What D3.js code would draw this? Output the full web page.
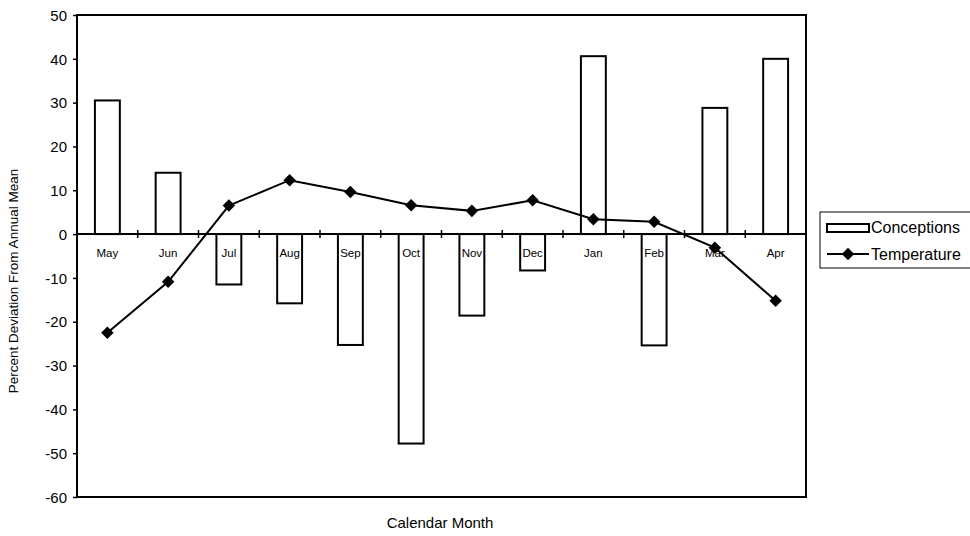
<!DOCTYPE html>
<html><head><meta charset="utf-8">
<script src="https://cdn.jsdelivr.net/npm/d3@7"></script>
<style>body{margin:0;background:#fff}svg{display:block}text{font-family:Arial,"Liberation Sans",sans-serif}</style>
</head><body>
<svg id="c" width="970" height="536"></svg>
<script>
const months = ["May","Jun","Jul","Aug","Sep","Oct","Nov","Dec","Jan","Feb","Mar","Apr"];
const conceptions = [30.5,14,-11.5,-15.8,-25.3,-47.8,-18.6,-8.3,40.6,-25.4,28.8,40.0];
const temperature = [-22.5,-10.9,6.5,12.3,9.6,6.6,5.3,7.7,3.4,2.8,-3.1,-15.2];
const yTicks = [50,40,30,20,10,0,-10,-20,-30,-40,-50,-60];
const seriesNames = ["Conceptions","Temperature"];

const svg = d3.select("#c");
const L = 77, R = 806, T = 15, B = 497;
const x = d3.scaleBand().domain(months).range([L, R]).paddingInner(0.59).paddingOuter(0.295);
const xb = d3.scaleBand().domain(months).range([L, R]);
const y = d3.scaleLinear().domain([-60, 50]).range([B, T]);

// y axis
const yAxis = d3.axisLeft(y).tickValues(yTicks).tickSize(4).tickFormat(d => String(d));
const gy = svg.append("g").attr("transform", `translate(${L},0)`).call(yAxis);
gy.select(".domain").remove();
gy.selectAll(".tick line").attr("stroke","#000").attr("stroke-width",1.5);
gy.selectAll(".tick text").attr("font-size",15).attr("fill","#000").attr("x",-10).attr("dy","0.35em");

// bars
svg.append("g").selectAll("rect").data(months).join("rect")
  .attr("x", d => x(d))
  .attr("width", x.bandwidth())
  .attr("y", (d,i) => y(Math.max(0, conceptions[i])))
  .attr("height", (d,i) => Math.abs(y(conceptions[i]) - y(0)))
  .attr("fill","#fff").attr("stroke","#000").attr("stroke-width",2);

// plot border
svg.append("rect").attr("x",L).attr("y",T).attr("width",R-L).attr("height",B-T)
  .attr("fill","none").attr("stroke","#000").attr("stroke-width",2);

// zero axis with category-boundary ticks
const gx = svg.append("g").attr("transform",`translate(0,${y(0)})`);
gx.append("line").attr("x1",L).attr("x2",R).attr("stroke","#000").attr("stroke-width",2);
gx.selectAll("line.t").data(months.slice(1)).join("line").attr("class","t")
  .attr("x1", d => xb(d)).attr("x2", d => xb(d)).attr("y1",-4).attr("y2",4)
  .attr("stroke","#000").attr("stroke-width",1.5);
gx.selectAll("text").data(months).join("text")
  .attr("x", d => xb(d) + xb.bandwidth()/2).attr("y", 23)
  .attr("text-anchor","middle").attr("font-size",11.5).attr("fill","#000").text(d => d);

// temperature line
const line = d3.line().x((d,i) => xb(months[i]) + xb.bandwidth()/2).y(d => y(d));
svg.append("path").datum(temperature).attr("d", line)
  .attr("fill","none").attr("stroke","#000").attr("stroke-width",2);
const diamond = d3.symbol().type(d3.symbolDiamond2).size(100);
svg.append("g").selectAll("path").data(temperature).join("path")
  .attr("transform", (d,i) => `translate(${xb(months[i]) + xb.bandwidth()/2},${y(d)})`)
  .attr("d", diamond).attr("fill","#000");

// axis titles
svg.append("text").attr("transform",`translate(18,281) rotate(-90)`)
  .attr("text-anchor","middle").attr("font-size",13.5).attr("fill","#000")
  .text("Percent Deviation From Annual Mean");
svg.append("text").attr("x",440).attr("y",528).attr("text-anchor","middle")
  .attr("font-size",15).attr("fill","#000").text("Calendar Month");

// legend
const lg = svg.append("g");
lg.append("rect").attr("x",820).attr("y",212).attr("width",152).attr("height",56)
  .attr("fill","#fff").attr("stroke","#000").attr("stroke-width",1);
lg.append("rect").attr("x",827).attr("y",224).attr("width",42).attr("height",8)
  .attr("fill","#fff").attr("stroke","#000").attr("stroke-width",2);
lg.append("text").attr("x",871).attr("y",233).attr("font-size",16).attr("fill","#000").text(seriesNames[0]);
lg.append("line").attr("x1",827).attr("x2",869).attr("y1",254).attr("y2",254)
  .attr("stroke","#000").attr("stroke-width",2);
lg.append("path").attr("transform","translate(848,254)").attr("d",diamond).attr("fill","#000");
lg.append("text").attr("x",871).attr("y",260).attr("font-size",16).attr("fill","#000").text(seriesNames[1]);
</script>
</body></html>
